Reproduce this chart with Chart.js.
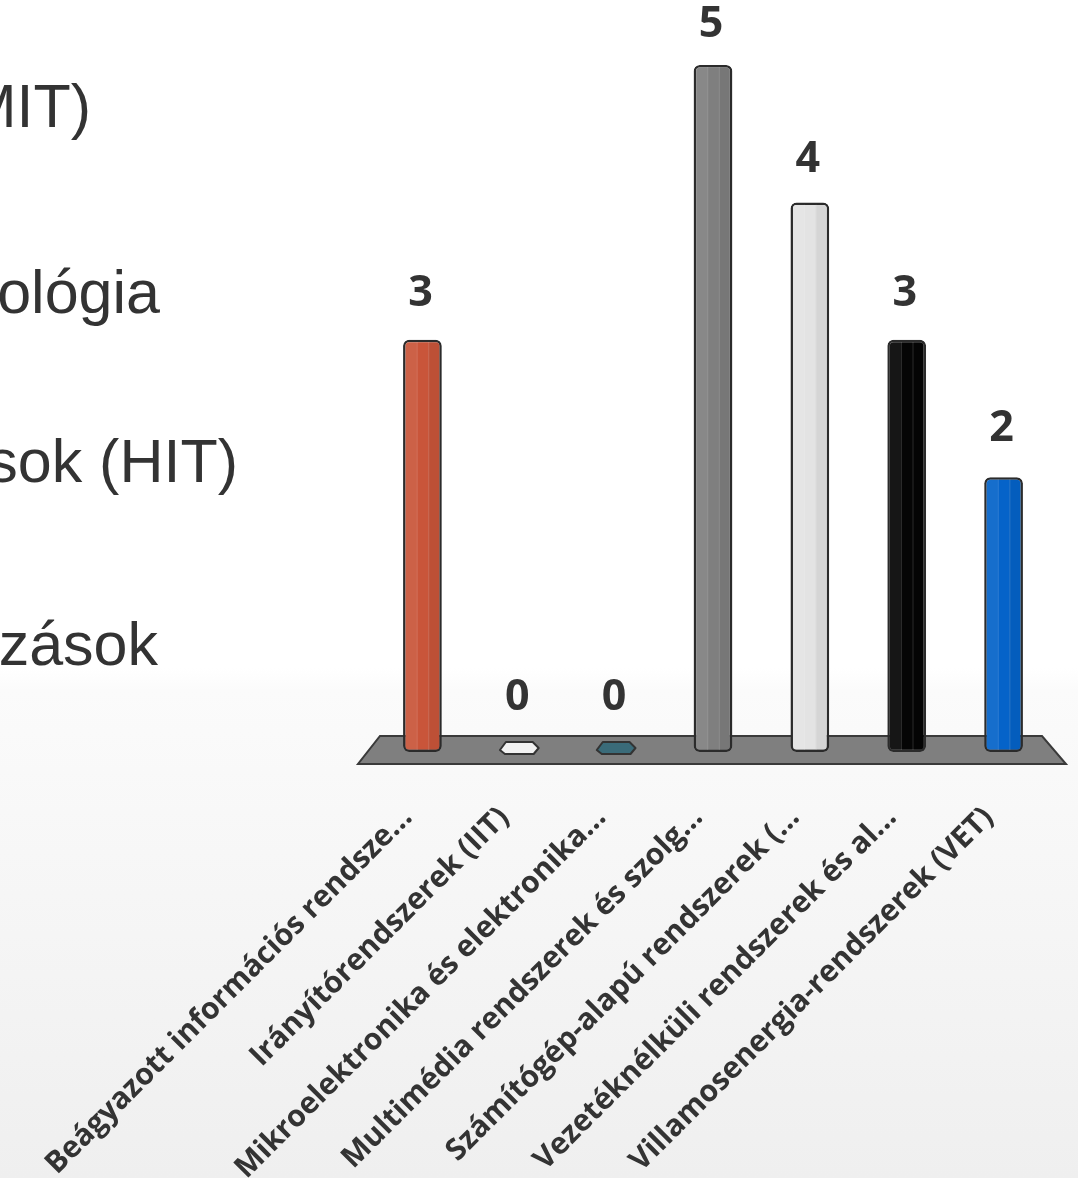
<!DOCTYPE html>
<html lang="hu">
<head>
<meta charset="utf-8">
<title>Tanszékek</title>
<script src="https://cdn.jsdelivr.net/npm/chart.js@4.4.1/dist/chart.umd.min.js"></script>
<style>
  html, body { margin: 0; padding: 0; width: 1078px; height: 1178px; overflow: hidden; }
  body {
    position: relative;
    background: linear-gradient(to bottom, #ffffff 0px, #ffffff 668px, #fbfbfb 690px, #efefef 1178px);
    font-family: "Liberation Sans", Arial, sans-serif;
  }
  .side { position: absolute; white-space: nowrap; font-size: 61px; line-height: 1; color: #333333; }
  #chart { position: absolute; left: 0; top: 0; }
</style>
</head>
<body>
<div class="side" style="right:987px; top:76px;">(MIT)</div>
<div class="side" style="right:918px; top:262px;">ológia</div>
<div class="side" style="right:840px; top:431px;">sok (HIT)</div>
<div class="side" style="right:920px; top:614px;">zások</div>
<canvas id="chart" width="1078" height="1178"></canvas>
<script>
// Tanszékek és a hozzájuk tartozó darabszámok
const categories = [
  'Beágyazott információs rendsze...',
  'Irányítórendszerek (IIT)',
  'Mikroelektronika és elektronika...',
  'Multimédia rendszerek és szolg...',
  'Számítógép-alapú rendszerek (...',
  'Vezetéknélküli rendszerek és al...',
  'Villamosenergia-rendszerek (VET)'
];
const counts = [3, 0, 0, 5, 4, 3, 2];
const barColors = ['#c9553a', '#f2f2f2', '#3a6b79', '#7f7f7f', '#e3e3e3', '#050505', '#0563c9'];

// Szürke "padló" a hasábok alatt
const floorPlugin = {
  id: 'floor',
  beforeDatasetsDraw(chart) {
    const c = chart.ctx;
    const y0 = chart.scales.y.getPixelForValue(0);
    const L = chart.chartArea.left, R = chart.chartArea.right;
    c.save();
    c.beginPath();
    c.moveTo(L + 6, y0 - 16);
    c.lineTo(R - 10, y0 - 16);
    c.lineTo(R + 14, y0 + 12);
    c.lineTo(L - 16, y0 + 12);
    c.closePath();
    c.fillStyle = '#7f7f7f';
    c.fill();
    c.lineWidth = 2;
    c.strokeStyle = '#3a3a3a';
    c.lineJoin = 'miter';
    c.stroke();
    c.restore();
  }
};

// Henger-hatás: világosabb bal sáv, sötétebb jobb sáv; nulla értéknél lapos korong
const shadePlugin = {
  id: 'shade',
  afterDatasetsDraw(chart) {
    const c = chart.ctx;
    const meta = chart.getDatasetMeta(0);
    meta.data.forEach((el, i) => {
      const { x, y, base, width } = el.getProps(['x', 'y', 'base', 'width'], true);
      const v = counts[i];
      c.save();
      if (v === 0) {
        const cy = base - 4;
        const w = width / 2;
        c.beginPath();
        c.moveTo(x - w, cy + 2);
        c.lineTo(x - w + 6, cy - 6);
        c.lineTo(x + w - 6, cy - 6);
        c.lineTo(x + w, cy);
        c.lineTo(x + w - 5, cy + 6);
        c.lineTo(x - w + 5, cy + 6);
        c.closePath();
        c.fillStyle = barColors[i];
        c.fill();
        c.lineJoin = 'round';
        c.lineWidth = 2;
        c.strokeStyle = '#333333';
        c.stroke();
      } else {
        const left = x - width / 2 + 2, right = x + width / 2 - 2;
        const top = y + 2, bottom = base - 2;
        const w = right - left;
        c.beginPath();
        c.roundRect(left, top, w, bottom - top, 4);
        c.clip();
        c.fillStyle = 'rgba(255,255,255,0.07)';
        c.fillRect(left, top, w / 3, bottom - top);
        c.fillStyle = 'rgba(0,0,0,0.06)';
        c.fillRect(left + 2 * w / 3, top, w / 3, bottom - top);
        c.fillStyle = 'rgba(255,255,255,0.16)';
        c.fillRect(left + w / 3, top, 1, bottom - top);
        c.fillRect(left + 2 * w / 3, top, 1, bottom - top);
      }
      c.restore();
    });
  }
};

// Értékcímkék a hasábok fölött
const valueLabelPlugin = {
  id: 'valueLabels',
  afterDatasetsDraw(chart) {
    const c = chart.ctx;
    const ys = chart.scales.y;
    const meta = chart.getDatasetMeta(0);
    c.save();
    c.font = 'bold 43px "Open Sans", sans-serif';
    c.fillStyle = '#333333';
    c.textAlign = 'center';
    c.textBaseline = 'middle';
    meta.data.forEach((el, i) => {
      const v = counts[i];
      const cy = ys.getPixelForValue(v) - 54 + 2.8 * v;
      c.fillText(String(v), el.x - 2, cy);
    });
    c.restore();
  }
};

new Chart(document.getElementById('chart'), {
  type: 'bar',
  data: {
    labels: categories,
    datasets: [{
      data: counts,
      backgroundColor: barColors,
      borderColor: '#2b2b2b',
      borderWidth: 2.5,
      borderSkipped: false,
      borderRadius: 6,
      barPercentage: 0.4,
      categoryPercentage: 1,
      clip: false
    }]
  },
  options: {
    responsive: false,
    animation: false,
    events: [],
    layout: { padding: { left: 374, right: 26, top: 65, bottom: 0 } },
    plugins: { legend: { display: false }, tooltip: { enabled: false } },
    scales: {
      x: {
        grid: { display: false, drawTicks: false },
        border: { display: false },
        ticks: {
          autoSkip: false,
          minRotation: 45,
          maxRotation: 45,
          padding: 48,
          labelOffset: -15,
          color: '#333333',
          font: { family: '"Open Sans", sans-serif', weight: 'bold', size: 30 }
        },
        afterFit(scale) {
          scale.height = 1178 - 752;
          scale.paddingLeft = 0;
          scale.paddingRight = 0;
        }
      },
      y: { display: false, min: 0, max: 5 }
    }
  },
  plugins: [floorPlugin, shadePlugin, valueLabelPlugin]
});
</script>
</body>
</html>
